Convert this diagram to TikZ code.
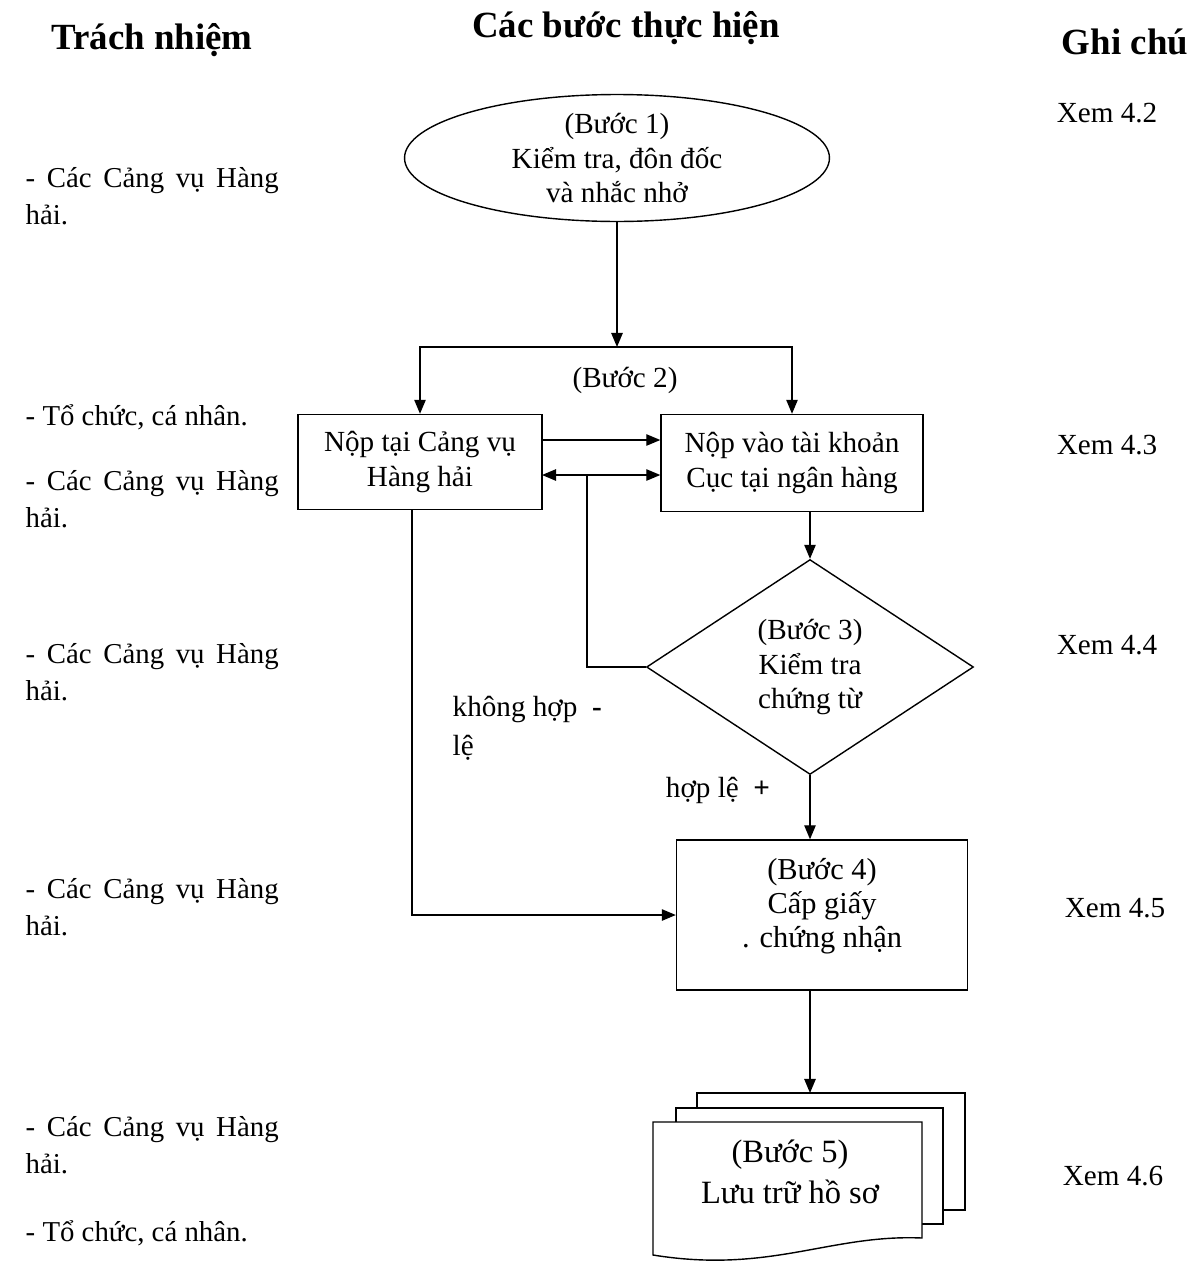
\documentclass[tikz,border=0pt]{standalone}
\usepackage{fontspec}
\setmainfont{Liberation Serif}
\usetikzlibrary{arrows.meta,shapes.geometric}

\newcommand{\spreadline}[1]{\makebox[5.06cm][s]{#1}}

\begin{document}
\begin{tikzpicture}[>={Triangle[length=8pt,width=6.5pt]},thick,
                    x=0.02cm,y=-0.02cm,
                    font=\fontsize{16.6}{19.5}\selectfont,
                    box/.style={draw,rectangle,align=center,inner sep=0pt},
                    resp/.style={align=left,anchor=west,inner sep=0pt,
                                 font=\fontsize{16.4}{21}\selectfont},
                    head/.style={font=\fontsize{21}{25}\selectfont\bfseries}]

\useasboundingbox (0,0) rectangle (1197,1268);

% column headings
\draw node[head] (hresp) at (152,40) {Trách nhiệm}
      node[head] (hstep) at (626,28) {Các bước thực hiện}
      node[head] (hnote) at (1125,42) {Ghi chú};

% steps
\node[draw,ellipse,align=center,minimum width=8.5cm,minimum height=2.54cm,
      inner sep=0pt] (step1) at (617,158) {(Bước 1)\\
                                           Kiểm tra, đôn đốc\\
                                           và nhắc nhở};
\coordinate (split) at (617,347);
\node at (625,380) {(Bước 2)};

\draw node[box,minimum width=4.88cm,minimum height=1.9cm] (box1) at (420,462)
           {Nộp tại Cảng vụ\\Hàng hải}
      node[box,minimum width=5.24cm,minimum height=1.94cm] (box2) at (792,463)
           {Nộp vào tài khoản\\Cục tại ngân hàng};

\node[draw,diamond,align=center,minimum width=6.54cm,minimum height=4.3cm,
      inner sep=0pt] (step3) at (810,667) {(Bước 3)\\
                                            Kiểm tra\\
                                            chứng từ};

\node[box,minimum width=5.82cm,minimum height=3cm,
      font=\fontsize{17.3}{19.5}\selectfont] (step4) at (822,915)
     {(Bước 4)\\Cấp giấy\\. chứng nhận\\[-6pt]\mbox{}};

% stacked documents
\draw[fill=white] (697,1093) rectangle (965,1210);
\draw[fill=white] (676,1108) rectangle (943,1224);
\draw[fill=white] (653,1122) -- (922,1122) -- (922,1238)
      .. controls (830,1234) and (770,1274) .. (653,1255) -- cycle;
\coordinate (doctop) at (810,1093);
\node[align=center,font=\fontsize{18.5}{21}\selectfont] (step5) at (790,1172)
     {(Bước 5)\\[2pt]Lưu trữ hồ sơ};

% connectors
\coordinate (a1) at (542,440);
\coordinate (a2) at (542,475);
\coordinate (j) at (587,475);
\coordinate (fail) at (412,510);

\draw[->] (step1.south) -- (split);
\draw[->] (split) -| (box1.north);
\draw[->] (split) -| (box2.north);

\path[->] (a1) edge (a1 -| box2.west);
\path[<->] (a2) edge (a2 -| box2.west);
\draw (j) |- (step3.west);

\draw[->] (box2.south -| step3.north) -- (step3.north);
\draw[->] (step3.south) -- (step3.south |- step4.north);
\draw[->] (fail) |- (step4.west);
\draw[->] (step4.south -| step3.south) -- (doctop);

\node[align=left,anchor=north west,inner sep=0pt] (nok) at (452,695)
     {không hợp~~\textbf{-}\\[3pt]lệ};
\node[inner sep=0pt] (ok) at (718,790) {hợp lệ~~\textbf{+}};

% responsibilities
\node[resp] (r1) at (25,196) {\spreadline{- Các Cảng vụ Hàng}\\hải.};
\node[resp] (r2) at (25,417) {- Tổ chức, cá nhân.};
\node[resp] (r3) at (25,499) {\spreadline{- Các Cảng vụ Hàng}\\hải.};
\node[resp] (r4) at (25,672) {\spreadline{- Các Cảng vụ Hàng}\\hải.};
\node[resp] (r5) at (25,907) {\spreadline{- Các Cảng vụ Hàng}\\hải.};
\node[resp] (r6) at (25,1145) {\spreadline{- Các Cảng vụ Hàng}\\hải.};
\node[resp] (r7) at (25,1233) {- Tổ chức, cá nhân.};

% notes
\draw node (n1) at (1107,113) {Xem 4.2}
      node (n2) at (1107,445) {Xem 4.3}
      node (n3) at (1107,645) {Xem 4.4}
      node (n4) at (1115,908) {Xem 4.5}
      node (n5) at (1113,1176) {Xem 4.6};

\end{tikzpicture}
\end{document}
